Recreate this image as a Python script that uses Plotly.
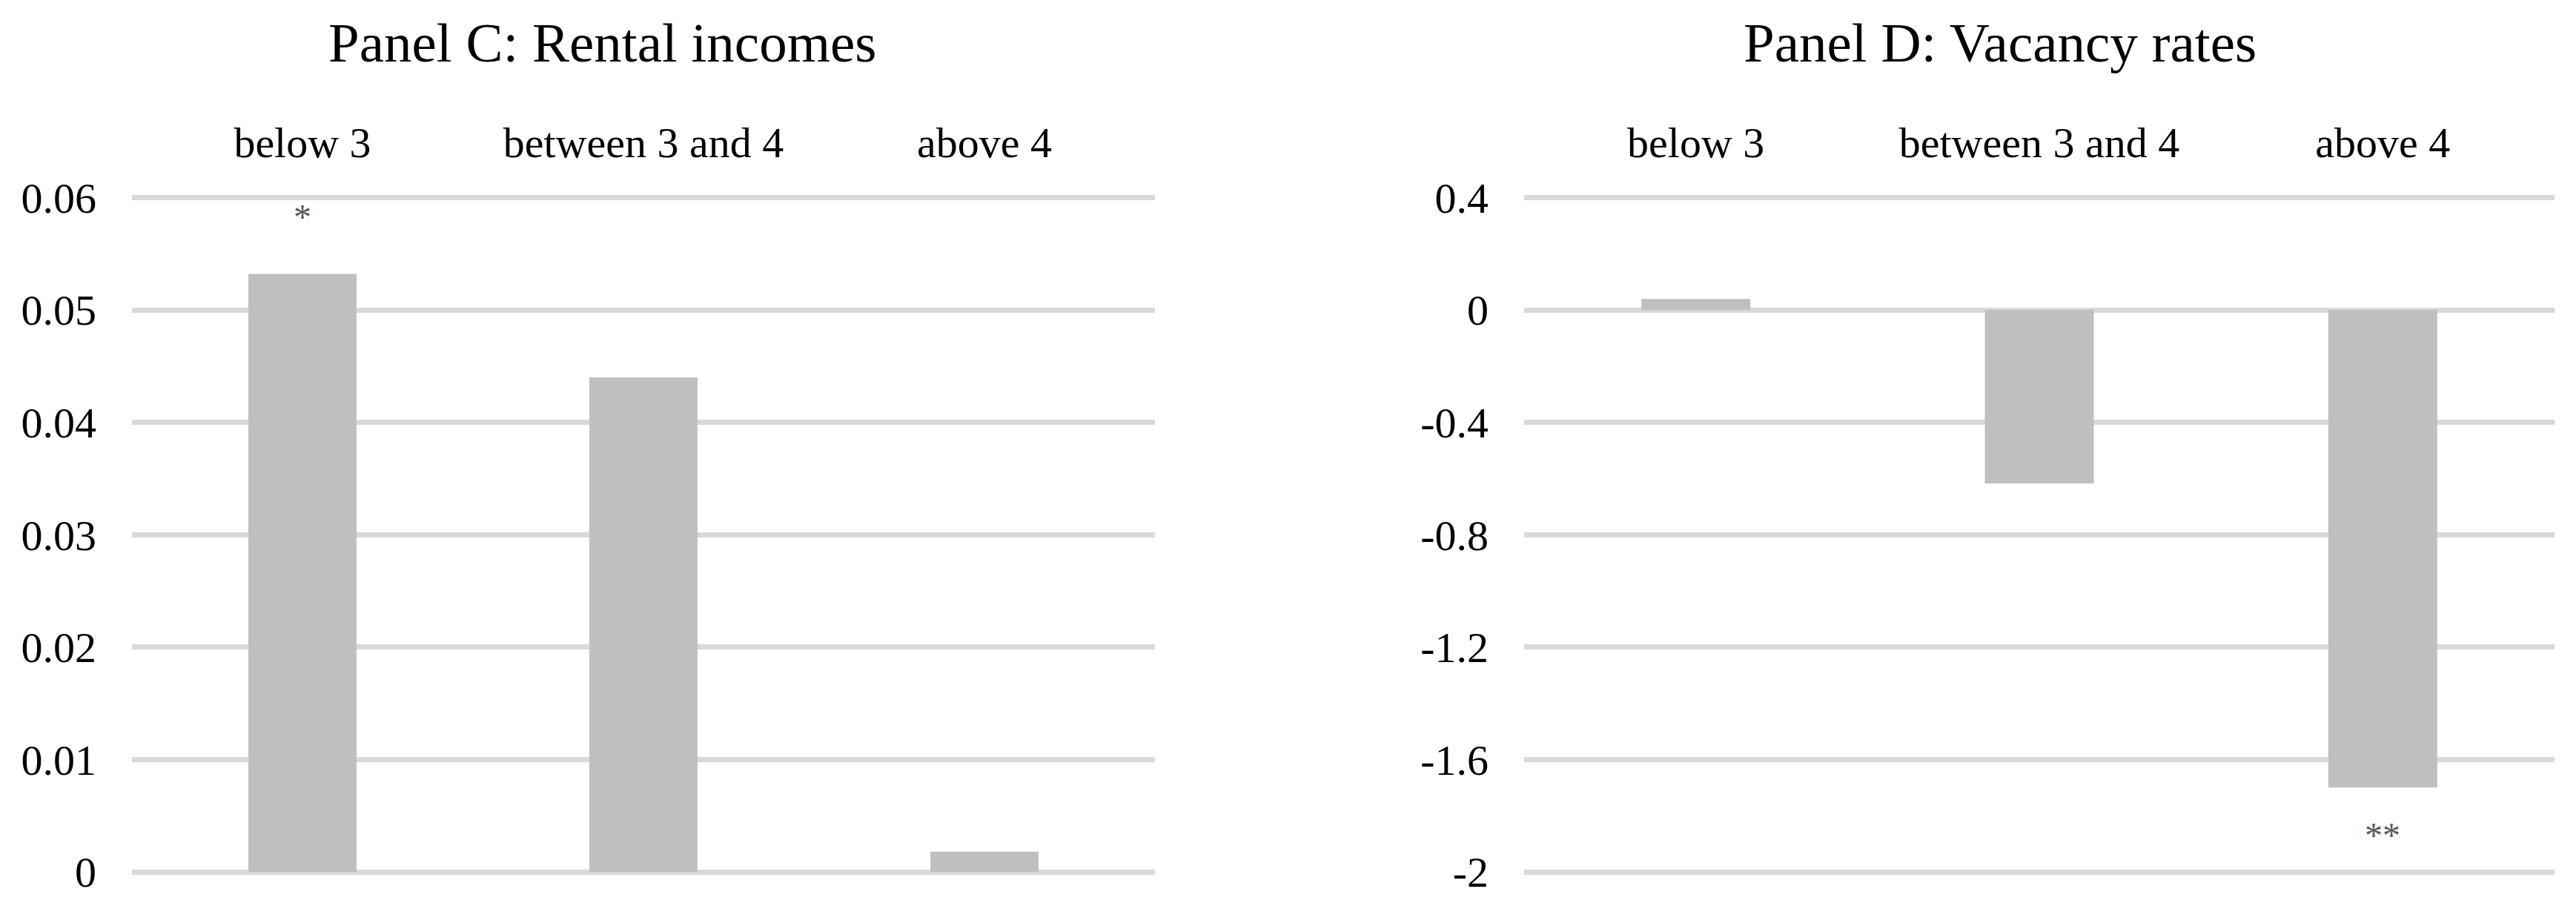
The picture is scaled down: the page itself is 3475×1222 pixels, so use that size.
import plotly.graph_objects as go

categories = ["below 3", "between 3 and 4", "above 4"]
rental_incomes = [0.0532, 0.0440, 0.0018]
rental_stars = ["*", "", ""]
vacancy_rates = [0.039, -0.617, -1.70]
vacancy_stars = ["", "", "**"]

rental_range = [0, 0.06]
rental_ticks = [0, 0.01, 0.02, 0.03, 0.04, 0.05, 0.06]
rental_ticktext = ["0", "0.01", "0.02", "0.03", "0.04", "0.05", "0.06"]
vacancy_range = [-2, 0.4]
vacancy_ticks = [-2, -1.6, -1.2, -0.8, -0.4, 0, 0.4]
vacancy_ticktext = ["-2", "-1.6", "-1.2", "-0.8", "-0.4", "0", "0.4"]

titles = ["Panel C: Rental incomes", "Panel D: Vacancy rates"]

FONT = "Liberation Serif, Times New Roman, serif"
BAR = "#BFBFBF"
GRID = "#D9D9D9"
STAR = "#595959"

W, H = 3475, 1222
OFF = 8.0                          # page body margin compensation
TOP_PX, BOT_PX = 266.5 - OFF, 1176.0 - OFF   # pixel rows of top and bottom gridlines
PAD = 3.0                          # extra pixels so end gridlines are not clipped


def padded(r):
    upp = (r[1] - r[0]) / (BOT_PX - TOP_PX)
    return [r[0] - PAD * upp, r[1] + PAD * upp]


def px(x):
    return (x - OFF) / W


fig = go.Figure()
fig.add_trace(go.Bar(x=categories, y=rental_incomes, marker=dict(color=BAR, line=dict(width=0)),
                     xaxis="x", yaxis="y", showlegend=False))
fig.add_trace(go.Bar(x=categories, y=vacancy_rates, marker=dict(color=BAR, line=dict(width=0)),
                     xaxis="x2", yaxis="y2", showlegend=False))

annotations = []
for c, v, s in zip(categories, rental_incomes, rental_stars):
    if s:
        annotations.append(dict(x=c, y=v, xref="x", yref="y", text=s, showarrow=False,
                                yanchor="middle", yshift=77,
                                font=dict(family=FONT, size=48, color=STAR)))
for c, v, s in zip(categories, vacancy_rates, vacancy_stars):
    if s:
        annotations.append(dict(x=c, y=v, xref="x2", yref="y2", text=s, showarrow=False,
                                yanchor="middle", yshift=-64,
                                font=dict(family=FONT, size=48, color=STAR)))
for xc, t in zip([px(812), px(2698)], titles):
    annotations.append(dict(x=xc, y=1 - (58 - OFF) / H, xref="paper", yref="paper", text=t,
                            showarrow=False, xanchor="center", yanchor="middle",
                            font=dict(family=FONT, size=75, color="black")))

yd = [(H - BOT_PX - PAD) / H, (H - TOP_PX + PAD) / H]
xaxis_common = dict(side="top", showgrid=False, zeroline=False, showline=False, ticks="",
                    automargin=False, ticklabelstandoff=39,
                    tickfont=dict(family=FONT, size=58, color="black"), fixedrange=True)
yaxis_common = dict(showgrid=True, gridcolor=GRID, gridwidth=7, zeroline=False,
                    showline=False, ticks="", automargin=False,
                    tickfont=dict(family=FONT, size=58, color="black"), ticklabelstandoff=47)

fig.update_layout(
    width=W, height=H,
    margin=dict(l=0, r=0, t=0, b=0, pad=0, autoexpand=False),
    paper_bgcolor="white", plot_bgcolor="white",
    bargap=0.683,
    annotations=annotations,
    xaxis=dict(domain=[px(178), px(1558)], anchor="y", **xaxis_common),
    xaxis2=dict(domain=[px(2056), px(3446)], anchor="y2", **xaxis_common),
    yaxis=dict(domain=yd, anchor="x", range=padded(rental_range), tickvals=rental_ticks,
               ticktext=rental_ticktext, **yaxis_common),
    yaxis2=dict(domain=yd, anchor="x2", range=padded(vacancy_range), tickvals=vacancy_ticks,
                ticktext=vacancy_ticktext, **yaxis_common),
)

fig.write_html("out.html")
